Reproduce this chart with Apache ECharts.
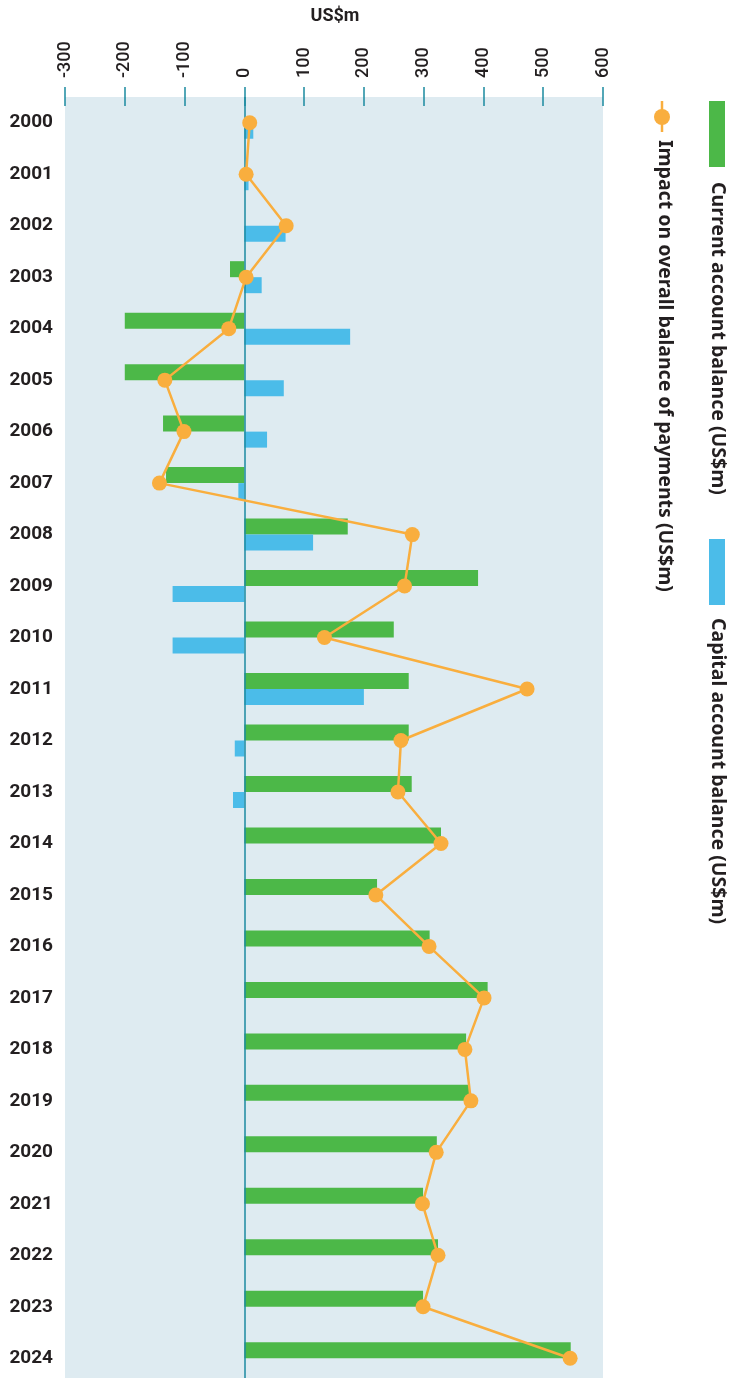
<!DOCTYPE html>
<html>
<head>
<meta charset="utf-8">
<script src="https://cdn.jsdelivr.net/npm/echarts@6/dist/echarts.min.js"></script>
<style>
  html, body { margin: 0; padding: 0; background: #ffffff; overflow: hidden; }
  #chart { width: 732px; height: 1384px; }
</style>
</head>
<body>
<div id="chart"></div>
<script>
// Balance of payments components, US$m, 2000–2024
const years = ['2000','2001','2002','2003','2004','2005','2006','2007','2008','2009',
  '2010','2011','2012','2013','2014','2015','2016','2017','2018','2019',
  '2020','2021','2022','2023','2024'];

const currentAccount = [0, 0, 0, -24, -200, -200, -136, -131, 173, 391,
  250, 275, 275, 280, 329, 222, 310, 407, 371, 376,
  322, 299, 324, 299, 546];

const capitalAccount = [15, 7, 69, 29, 177, 66, 38, -10, 115, -120,
  -120, 200, -16, -19, 0, 0, 0, 0, 0, 0,
  0, 0, 0, 0, 0];

const overallImpact = [9, 3, 70, 3, -26, -133, -101, -142, 281, 268,
  134, 473, 262, 257, 329, 220, 309, 401, 369, 379,
  321, 298, 324, 299, 545];

const valueTicks = [-300, -200, -100, 0, 100, 200, 300, 400, 500, 600];

const seriesNames = [
  'Current account balance (US$m)',
  'Capital account balance (US$m)',
  'Impact on overall balance of payments (US$m)'
];

const GREEN = '#4cb848';
const BLUE = '#4bbce9';
const ORANGE = '#f9ae3e';
const TEAL = '#1b8aa0';
const INK = '#231f20';

const chart = echarts.init(document.getElementById('chart'), null, { renderer: 'canvas' });

const legendFont = 'bold 19.5px "Noto Sans", sans-serif';

chart.setOption({
  animation: false,
  backgroundColor: '#ffffff',
  grid: {
    left: 65,
    right: 129,
    top: 97,
    bottom: 0,
    show: true,
    backgroundColor: '#deebf1',
    borderWidth: 0
  },
  xAxis: {
    type: 'value',
    position: 'top',
    min: valueTicks[0],
    max: valueTicks[valueTicks.length - 1],
    interval: 100,
    offset: -9,
    axisLine: { show: false },
    axisTick: { show: true, length: 19, lineStyle: { color: TEAL, width: 1.5 } },
    splitLine: { show: false },
    axisLabel: {
      rotate: -90,
      margin: 28,
      fontFamily: 'Roboto, sans-serif',
      fontSize: 18,
      fontWeight: 500,
      color: INK
    }
  },
  yAxis: {
    type: 'category',
    data: years,
    inverse: true,
    axisLine: { show: false },
    axisTick: { show: false },
    splitLine: { show: false },
    axisLabel: {
      margin: 12,
      fontFamily: 'Roboto, sans-serif',
      fontSize: 19,
      fontWeight: 'bold',
      color: INK
    }
  },
  series: [
    {
      name: seriesNames[0],
      type: 'bar',
      data: currentAccount,
      barWidth: 16,
      barGap: '0%',
      itemStyle: { color: GREEN },
      markLine: {
        silent: true,
        symbol: 'none',
        label: { show: false },
        lineStyle: { color: TEAL, width: 1.5, type: 'solid' },
        data: [{ xAxis: 0 }]
      }
    },
    {
      name: seriesNames[1],
      type: 'bar',
      data: capitalAccount,
      barWidth: 16,
      barGap: '0%',
      itemStyle: { color: BLUE }
    },
    {
      name: seriesNames[2],
      type: 'line',
      data: overallImpact,
      z: 5,
      symbol: 'circle',
      symbolSize: 15,
      showSymbol: true,
      lineStyle: { color: ORANGE, width: 2.5 },
      itemStyle: { color: ORANGE }
    }
  ],
  graphic: [
    {
      type: 'text',
      x: 335, y: 16,
      style: {
        text: 'US$m',
        x: 0, y: 0,
        align: 'center',
        verticalAlign: 'middle',
        font: 'bold 18px Roboto, sans-serif',
        fill: INK
      }
    },
    // legend: current account
    {
      type: 'rect',
      shape: { x: 709, y: 101, width: 16, height: 66 },
      style: { fill: GREEN }
    },
    {
      type: 'text',
      x: 718, y: 182,
      rotation: -Math.PI / 2,
      style: {
        text: seriesNames[0],
        x: 0, y: 0,
        align: 'left',
        verticalAlign: 'middle',
        font: legendFont,
        fill: INK
      }
    },
    // legend: capital account
    {
      type: 'rect',
      shape: { x: 709, y: 539, width: 16, height: 66 },
      style: { fill: BLUE }
    },
    {
      type: 'text',
      x: 718, y: 618,
      rotation: -Math.PI / 2,
      style: {
        text: seriesNames[1],
        x: 0, y: 0,
        align: 'left',
        verticalAlign: 'middle',
        font: legendFont,
        fill: INK
      }
    },
    // legend: overall impact
    {
      type: 'line',
      shape: { x1: 662, y1: 101, x2: 662, y2: 132 },
      style: { stroke: ORANGE, lineWidth: 2.5 }
    },
    {
      type: 'circle',
      shape: { cx: 662, cy: 117, r: 8 },
      style: { fill: ORANGE }
    },
    {
      type: 'text',
      x: 665, y: 140,
      rotation: -Math.PI / 2,
      style: {
        text: seriesNames[2],
        x: 0, y: 0,
        align: 'left',
        verticalAlign: 'middle',
        font: legendFont,
        fill: INK
      }
    }
  ]
});
</script>
</body>
</html>
